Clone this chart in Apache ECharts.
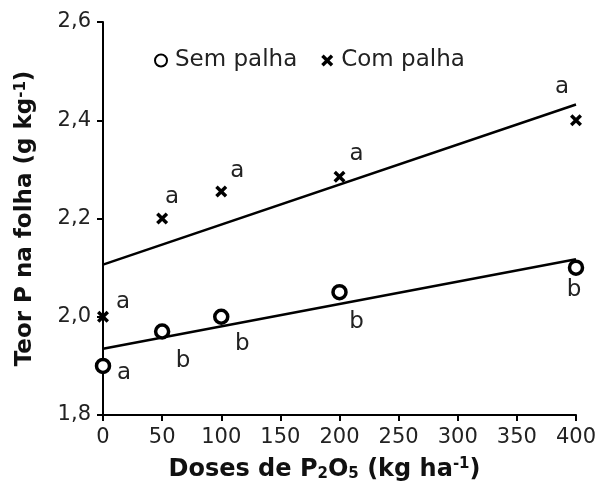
<!DOCTYPE html>
<html>
<head>
<meta charset="utf-8">
<script src="https://cdn.jsdelivr.net/npm/echarts@6/dist/echarts.min.js"></script>
<style>
  html, body { margin: 0; padding: 0; background: #fff; }
  #chart { width: 601px; height: 499px; }
</style>
</head>
<body>
<div id="chart"></div>
<script>
// doses de P2O5 (kg/ha)
var doses = [0, 50, 100, 200, 400];
// teor de P na folha
var semPalha = [1.90, 1.97, 2.00, 2.05, 2.10];
var comPalha = [2.00, 2.20, 2.255, 2.285, 2.40];
// letras de comparacao
var letrasSem = ['a', 'b', 'b', 'b', 'b'];
var letrasCom = ['a', 'a', 'a', 'a', 'a'];
// retas de regressao
var retaX = [0, 400];
var retaSem = [1.935, 2.117];
var retaCom = [2.106, 2.432];

var fonte = 'DejaVu Sans, Liberation Sans, sans-serif';
var cruz = 'path://M0,2 L2,0 L5,3 L8,0 L10,2 L7,5 L10,8 L8,10 L5,7 L2,10 L0,8 L3,5 Z';

// deslocamento das letras em relacao ao ponto
var offSem = [[21, 7], [21, 30], [21, 27], [17, 30], [-2, 22]];
var offCom = [[20, -15], [10, -21], [16, -20], [17, -23], [-14, -33]];

function pontos(ys, letras, offs) {
    var arr = [];
    for (var i = 0; i < doses.length; i++) {
        arr.push({
            value: [doses[i], ys[i]],
            label: { formatter: letras[i], offset: offs[i] }
        });
    }
    return arr;
}

function reta(ys) {
    var arr = [];
    for (var i = 0; i < retaX.length; i++) arr.push([retaX[i], ys[i]]);
    return arr;
}

var labelBase = {
    show: true,
    position: 'inside',
    color: '#222',
    fontSize: 23,
    fontFamily: fonte
};

var chart = echarts.init(document.getElementById('chart'));
var option = {
    animation: false,
    grid: { left: 103, right: 25, top: 22, bottom: 84 },
    legend: {
        left: 149,
        top: 44,
        itemGap: 24,
        itemWidth: 12,
        itemHeight: 12,
        textStyle: { fontSize: 23, color: '#222', fontFamily: fonte, padding: [0, 0, 0, 3] },
        data: ['Sem palha', 'Com palha']
    },
    xAxis: {
        type: 'value',
        min: 0, max: 400, interval: 50,
        name: 'Doses de P{sub|2}O{sub|5} (kg ha{sup|-1})',
        nameLocation: 'middle',
        nameGap: 42,
        nameTextStyle: {
            fontSize: 24, fontWeight: 'bold', color: '#111', fontFamily: fonte,
            padding: [0, 30, 0, 0],
            rich: {
                sub: { fontSize: 15, fontWeight: 'bold', verticalAlign: 'bottom', padding: [10, 0, 0, 0], fontFamily: fonte, color: '#111' },
                sup: { fontSize: 15, fontWeight: 'bold', verticalAlign: 'top', padding: [0, 0, 8, 0], fontFamily: fonte, color: '#111' }
            }
        },
        axisLine: { lineStyle: { color: '#000', width: 2 } },
        axisTick: { length: 6, lineStyle: { color: '#000', width: 2 } },
        axisLabel: { fontSize: 21, color: '#222', fontFamily: fonte, margin: 12 },
        splitLine: { show: false }
    },
    yAxis: {
        type: 'value',
        min: 1.8, max: 2.6, interval: 0.2,
        name: 'Teor P na folha (g kg{sup|-1})',
        nameLocation: 'middle',
        nameGap: 66,
        nameTextStyle: {
            fontSize: 23, fontWeight: 'bold', color: '#111', fontFamily: fonte,
            padding: [0, 0, 0, 0],
            rich: {
                sup: { fontSize: 15, fontWeight: 'bold', verticalAlign: 'top', padding: [0, 0, 8, 0], fontFamily: fonte, color: '#111' }
            }
        },
        axisLine: { lineStyle: { color: '#000', width: 2 } },
        axisTick: { length: 6, lineStyle: { color: '#000', width: 2 } },
        axisLabel: {
            fontSize: 21, color: '#222', fontFamily: fonte, margin: 12,
            formatter: function (v) { return v.toFixed(1).replace('.', ','); }
        },
        splitLine: { show: false }
    },
    series: [
        {
            name: 'reta sem',
            type: 'line',
            data: reta(retaSem),
            symbol: 'none',
            lineStyle: { color: '#000', width: 2.5 },
            z: 1
        },
        {
            name: 'reta com',
            type: 'line',
            data: reta(retaCom),
            symbol: 'none',
            lineStyle: { color: '#000', width: 2.5 },
            z: 1
        },
        {
            name: 'Sem palha',
            type: 'scatter',
            symbol: 'circle',
            symbolSize: 13,
            itemStyle: { color: '#fff', borderColor: '#000', borderWidth: 3.5, opacity: 1 },
            label: labelBase,
            data: pontos(semPalha, letrasSem, offSem),
            z: 3
        },
        {
            name: 'Com palha',
            type: 'scatter',
            symbol: cruz,
            symbolSize: 12,
            itemStyle: { color: '#000', opacity: 1 },
            label: labelBase,
            data: pontos(comPalha, letrasCom, offCom),
            z: 3
        }
    ]
};
chart.setOption(option);
</script>
</body>
</html>
